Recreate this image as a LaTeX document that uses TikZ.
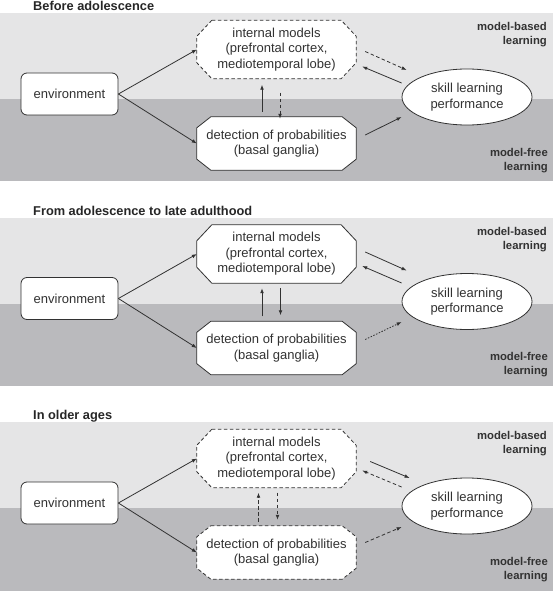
\documentclass[tikz,border=0pt]{standalone}
\usepackage{fontspec}
\setmainfont{Liberation Sans}
\usepackage{xcolor}
\usepackage{tikz}
\usetikzlibrary{shapes.geometric,arrows.meta,backgrounds}
\definecolor{lightband}{RGB}{229,229,230}
\definecolor{darkband}{RGB}{186,186,189}
\definecolor{ink}{RGB}{50,50,50}
% octagon frame round a named node: node, x cut, y cut, extra style
\newcommand{\cutframe}[4]{%
	\begin{pgfonlayer}{background}
		\draw[draw=ink, fill=white, line width=0.8pt, #4] ([xshift=#2]#1.north west) -- ([xshift=-#2]#1.north east) -- ([yshift=-#3]#1.north east) -- ([yshift=#3]#1.south east) -- ([xshift=-#2]#1.south east) -- ([xshift=#2]#1.south west) -- ([yshift=#3]#1.south west) -- ([yshift=-#3]#1.north west) -- cycle;
	\end{pgfonlayer}}

\begin{document}
\begin{tikzpicture}[x=1pt, y=-1pt,
		every node/.style={text=ink},
		envbox/.style={draw=ink, fill=white, line width=0.8pt, rounded corners=6pt, minimum width=97pt, minimum height=42pt, inner sep=0pt, font=\fontsize{13}{15.5}\selectfont},
		areabox/.style={minimum width=159pt, minimum height=58pt, inner sep=0pt, align=center, font=\fontsize{13}{15.5}\selectfont},
		detbox/.style={areabox, minimum height=53pt},
		perfbox/.style={ellipse, draw=ink, fill=white, line width=0.8pt, minimum width=130pt, minimum height=56pt, inner sep=0pt, align=center, font=\fontsize{13}{15.5}\selectfont},
		sidelabel/.style={anchor=east, align=right, inner sep=0pt, font=\bfseries\fontsize{11.3}{14}\selectfont},
		paneltitle/.style={anchor=base west, inner sep=0pt, text=black!85, font=\bfseries\fontsize{12.8}{15}\selectfont},
		link/.style={draw=ink, line width=0.8pt, -{Latex[length=5pt,width=3.8pt]}},
		unsure/.style={dash pattern=on 3.5pt off 2.5pt},
		dotlink/.style={dash pattern=on 1.5pt off 1.5pt},
	]
	\useasboundingbox (0,0) rectangle (553,591);
	% Panel 1
	\begin{pgfonlayer}{background}
		\fill[lightband] (0,13) rectangle (553,99);
		\fill[darkband] (0,99) rectangle (553,181);
	\end{pgfonlayer}
	\node[paneltitle] (title) at (33,10.5) {Before adolescence};
	\node[sidelabel] (mb) at (547,35) {model-based\\learning};
	\node[sidelabel] (mf) at (548,160.5) {model-free\\learning};
	\node[envbox] (env) at (69.5,94) {environment};
	\node[areabox] (int) at (276.5,49.5) {internal models\\(prefrontal cortex,\\mediotemporal lobe)};
	\node[detbox] (det) at (276.5,143.5) {detection of probabilities\\(basal ganglia)};
	\node[perfbox] (skill) at (467,97) {skill learning\\performance};
	\cutframe{int}{15pt}{16pt}{unsure}
	\cutframe{det}{14pt}{11pt}{}
	\draw[link] (env.east) -- (int.west);
	\draw[link] (env.east) -- (det.west);
	\draw[link] ([shift={(-14.5,-5)}]det.north) -- ([shift={(-14.5,6)}]int.south);
	\draw[link, unsure] ([shift={(3.5,14)}]int.south) -- ([shift={(3.5,2)}]det.north);
	\draw[link, unsure] ([shift={(9,2)}]int.east) -- ([shift={(5,-27)}]skill.west);
	\draw[link] ([shift={(0,-14)}]skill.west) -- ([shift={(6,17)}]int.east);
	\draw[link] ([shift={(9,-8.5)}]det.east) -- ([shift={(0,20)}]skill.west);
	% Panel 2
	\begin{scope}[yshift=-204.5pt]
		\begin{pgfonlayer}{background}
			\fill[lightband] (0,13) rectangle (553,99);
			\fill[darkband] (0,99) rectangle (553,181);
		\end{pgfonlayer}
		\node[paneltitle] (title') at (33,10.5) {From adolescence to late adulthood};
		\node[sidelabel] (mb') at (547,35) {model-based\\learning};
		\node[sidelabel] (mf') at (548,160.5) {model-free\\learning};
		\node[envbox] (env') at (69.5,94) {environment};
		\node[areabox] (int') at (276.5,49.5) {internal models\\(prefrontal cortex,\\mediotemporal lobe)};
		\node[detbox] (det') at (276.5,143.5) {detection of probabilities\\(basal ganglia)};
		\node[perfbox] (skill') at (467,97) {skill learning\\performance};
		\cutframe{int'}{15pt}{16pt}{}
		\cutframe{det'}{14pt}{11pt}{}
		\draw[link] (env'.east) -- (int'.west);
		\draw[link] (env'.east) -- (det'.west);
		\draw[link] ([shift={(-14.5,-5)}]det'.north) -- ([shift={(-14.5,5)}]int'.south);
		\draw[link] ([shift={(4,5)}]int'.south) -- ([shift={(4,-6)}]det'.north);
		\draw[link] ([shift={(9,-2)}]int'.east) -- ([shift={(5,-31)}]skill'.west);
		\draw[link] ([shift={(0,-18.5)}]skill'.west) -- ([shift={(6,12)}]int'.east);
		\draw[link, dotlink] ([shift={(9,-8.5)}]det'.east) -- ([shift={(0,20.5)}]skill'.west);
	\end{scope}
	% Panel 3
	\begin{scope}[yshift=-409pt]
		\begin{pgfonlayer}{background}
			\fill[lightband] (0,13) rectangle (553,99);
			\fill[darkband] (0,99) rectangle (553,182);
		\end{pgfonlayer}
		\node[paneltitle] (title'') at (33,10.5) {In older ages};
		\node[sidelabel] (mb'') at (547,35) {model-based\\learning};
		\node[sidelabel] (mf'') at (548,160.5) {model-free\\learning};
		\node[envbox] (env'') at (69.5,94) {environment};
		\node[areabox] (int'') at (276.5,49.5) {internal models\\(prefrontal cortex,\\mediotemporal lobe)};
		\node[detbox] (det'') at (276.5,143.5) {detection of probabilities\\(basal ganglia)};
		\node[perfbox] (skill'') at (467,97) {skill learning\\performance};
		\cutframe{int''}{15pt}{16pt}{unsure}
		\cutframe{det''}{14pt}{11pt}{unsure}
		\draw[link] (env''.east) -- (int''.west);
		\draw[link] (env''.east) -- (det''.west);
		\draw[link, unsure] ([shift={(-18,-4)}]det''.north) -- ([shift={(-18,5)}]int''.south);
		\draw[link, unsure] ([shift={(1,5)}]int''.south) -- ([shift={(1,-6)}]det''.north);
		\draw[link] ([shift={(14,3)}]int''.east) -- ([shift={(8,-28)}]skill''.west);
		\draw[link, unsure] ([shift={(0,-19)}]skill''.west) -- ([shift={(6,12)}]int''.east);
		\draw[link, unsure] ([shift={(9,-10)}]det''.east) -- ([shift={(0,21)}]skill''.west);
	\end{scope}
\end{tikzpicture}
\end{document}
